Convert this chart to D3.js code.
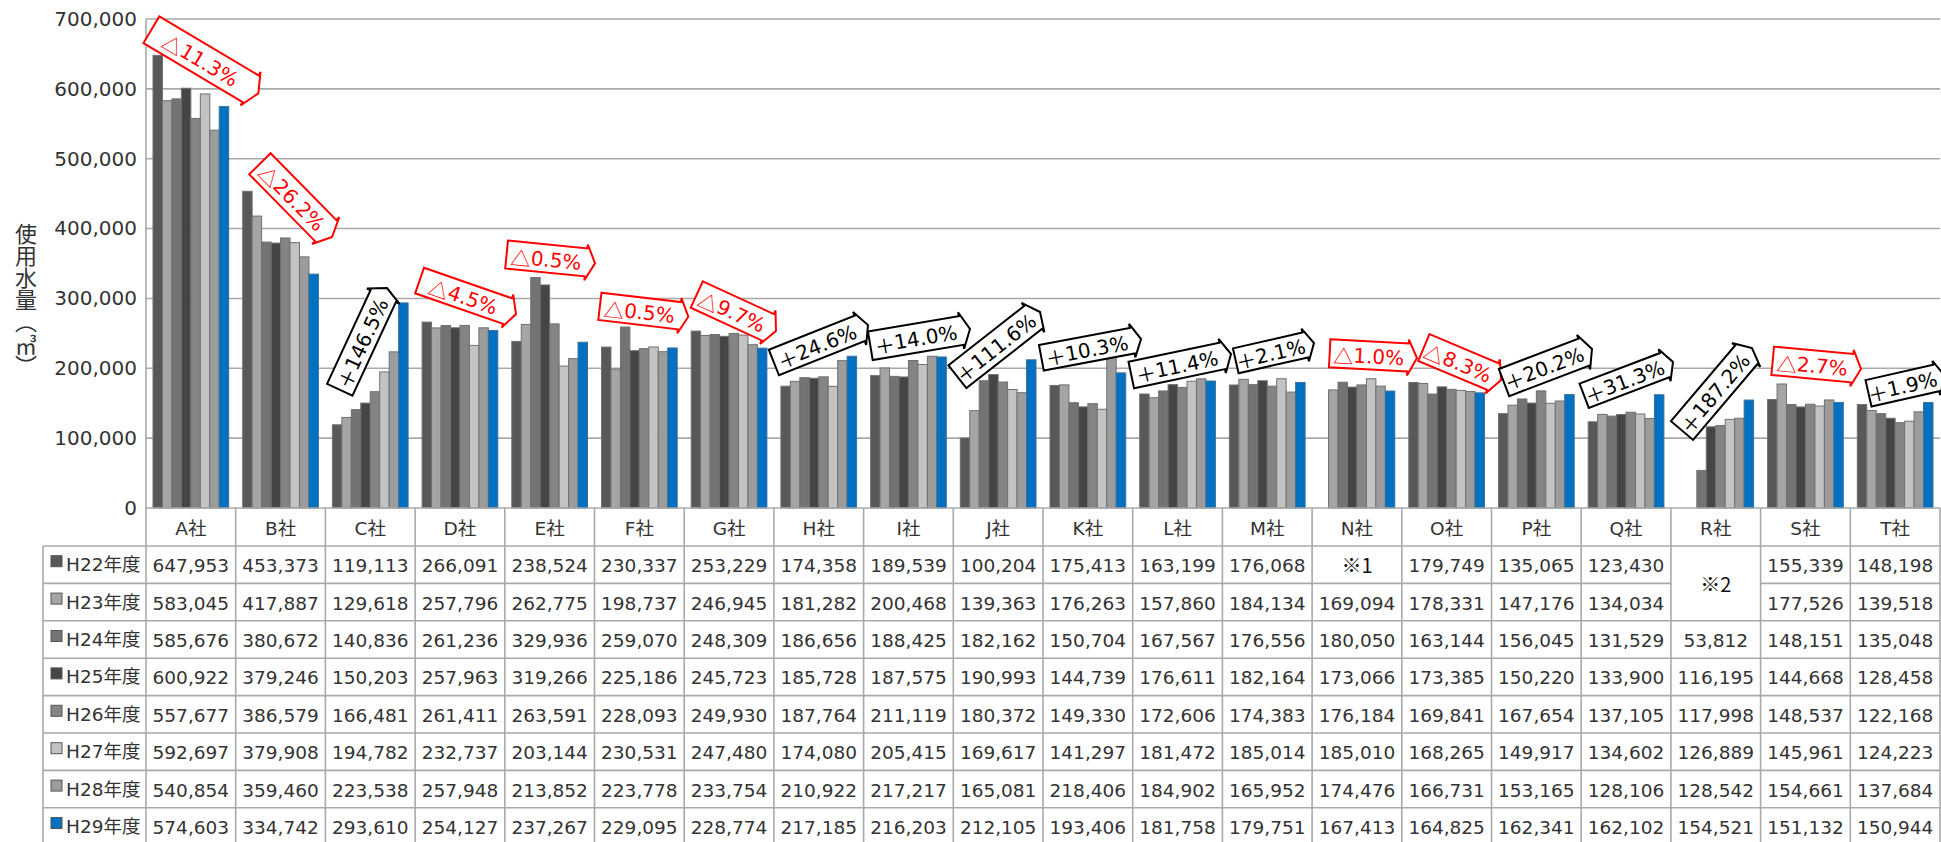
<!DOCTYPE html>
<html><head><meta charset="utf-8">
<script src="https://cdn.jsdelivr.net/npm/d3@7"></script>
<style>
body{margin:0;background:#fff;}
svg{display:block;font-family:"DejaVu Sans","Noto Sans CJK JP",sans-serif;}
</style></head><body>
<svg id="c" width="1941" height="842"></svg>
<script>
// ---------------- data ----------------
const companies = ["A社","B社","C社","D社","E社","F社","G社","H社","I社","J社","K社","L社","M社","N社","O社","P社","Q社","R社","S社","T社"];
const years = ["H22年度","H23年度","H24年度","H25年度","H26年度","H27年度","H28年度","H29年度"];
const H22 = [647953,453373,119113,266091,238524,230337,253229,174358,189539,100204,175413,163199,176068,null,179749,135065,123430,null,155339,148198];
const H23 = [583045,417887,129618,257796,262775,198737,246945,181282,200468,139363,176263,157860,184134,169094,178331,147176,134034,null,177526,139518];
const H24 = [585676,380672,140836,261236,329936,259070,248309,186656,188425,182162,150704,167567,176556,180050,163144,156045,131529,53812,148151,135048];
const H25 = [600922,379246,150203,257963,319266,225186,245723,185728,187575,190993,144739,176611,182164,173066,173385,150220,133900,116195,144668,128458];
const H26 = [557677,386579,166481,261411,263591,228093,249930,187764,211119,180372,149330,172606,174383,176184,169841,167654,137105,117998,148537,122168];
const H27 = [592697,379908,194782,232737,203144,230531,247480,174080,205415,169617,141297,181472,185014,185010,168265,149917,134602,126889,145961,124223];
const H28 = [540854,359460,223538,257948,213852,223778,233754,210922,217217,165081,218406,184902,165952,174476,166731,153165,128106,128542,154661,137684];
const H29 = [574603,334742,293610,254127,237267,229095,228774,217185,216203,212105,193406,181758,179751,167413,164825,162341,162102,154521,151132,150944];
const seriesValues = [H22,H23,H24,H25,H26,H27,H28,H29];
const yTicks = [0,100000,200000,300000,400000,500000,600000,700000];
const yLabel = "使用水量（㎥）";
const changeLabels = ["△11.3%","△26.2%","＋146.5%","△4.5%","△0.5%","△0.5%","△9.7%","＋24.6%","＋14.0%","＋111.6%","＋10.3%","＋11.4%","＋2.1%","△1.0%","△8.3%","＋20.2%","＋31.3%","＋187.2%","△2.7%","＋1.9%"];
// missing-data notes: [company, first year row, last year row, text]
const notes = [["N社","H22年度","H22年度","※1"],["R社","H22年度","H23年度","※2"]];
// annotation arrow placement: [band fraction, value] for tail and tip
const arrowFrom = [[0.06,684600],[0.27,492700],[0.16,169300],[0.05,325600],[0.02,362900],[0.06,288700],[0.14,305600],[0.00,208300],[0.075,232300],[0.046,187900],[-0.018,215000],[-0.016,190400],[0.149,210700],[0.196,221400],[0.246,229700],[0.14,179600],[0.033,160600],[0.124,110900],[0.135,210700],[0.203,164200]];
const arrowTo   = [[1.252,593600],[1.074,387900],[0.687,314900],[1.125,277700],[1.006,350300],[1.046,273800],[1.023,253400],[1.049,261900],[1.186,256200],[0.967,280600],[1.093,241900],[1.096,220400],[1.021,236200],[1.169,214700],[1.106,183200],[1.12,227600],[1.023,209000],[0.904,229000],[1.119,199000],[1.056,188900]];
const arrowThick = [31,30,28,27,28,27.5,29,27.5,29,29,26,27,25.5,28,29,29,26,29,28.5,27];

// ---------------- styles ----------------
const seriesColors = ["#585858","#a5a5a5","#737373","#454545","#848484","#c3c3c3","#9c9c9c","#0070c0"];
const lineColor = "#a9a9a9";
const textColor = "#333333";
const cjk = "Noto Sans CJK JP, sans-serif";

const svg = d3.select("#c");
const plotL = 146, plotR = 1940, plotT = 19, plotB = 508;
const tableL = 43, rowTop = 546, rowH = 37.4;

const x = d3.scaleBand().domain(companies).range([plotL, plotR]).padding(0);
const bw = x.bandwidth();
const x1 = d3.scaleBand().domain(years).range([7, bw - 7]).padding(0);
const y = d3.scaleLinear().domain([0, 700000]).range([plotB, plotT]);
const rowY = d3.scaleBand().domain(years).range([rowTop, rowTop + rowH * years.length]).padding(0);

// gridlines
svg.append("g").selectAll("line").data(yTicks.filter(d => d > 0)).join("line")
  .attr("x1", plotL).attr("x2", plotR)
  .attr("y1", d => y(d)).attr("y2", d => y(d))
  .attr("stroke", lineColor).attr("stroke-width", 1.6);

// y axis
const yAxis = d3.axisLeft(y).tickValues(yTicks).tickSize(0).tickPadding(9).tickFormat(d3.format(","));
const ga = svg.append("g").attr("transform", `translate(${plotL},0)`).call(yAxis);
ga.select(".domain").remove();
ga.selectAll("text").attr("font-size", 20).attr("fill", textColor)
  .attr("font-family", "DejaVu Sans, sans-serif");
svg.append("line").attr("x1", plotL).attr("x2", plotL).attr("y1", plotT).attr("y2", plotB)
  .attr("stroke", lineColor).attr("stroke-width", 1.6);

// y label (vertical, HTML for proper vertical typesetting)
svg.append("foreignObject").attr("x", 11).attr("y", 223).attr("width", 30).attr("height", 170)
  .append("xhtml:div")
  .style("writing-mode", "vertical-rl")
  .style("font-family", cjk)
  .style("font-size", "22px")
  .style("line-height", "30px")
  .style("color", textColor)
  .style("height", "170px")
  .text(yLabel);

// bars
const barData = [];
seriesValues.forEach((arr, si) => arr.forEach((v, ci) => {
  if (v != null) barData.push({c: companies[ci], yr: years[si], v, si});
}));
svg.append("g").selectAll("rect").data(barData).join("rect")
  .attr("x", d => x(d.c) + x1(d.yr))
  .attr("width", x1.bandwidth())
  .attr("y", d => y(d.v))
  .attr("height", d => y(0) - y(d.v))
  .attr("fill", d => seriesColors[d.si])
  .attr("stroke", d => d.si === 7 ? "#3a6f9a" : "#707070")
  .attr("stroke-width", 1);

// ---------------- table ----------------
const tg = svg.append("g");
const tableBottom = rowTop + rowH * years.length;
const hLines = [plotB, ...years.map(yr => rowY(yr)), tableBottom];
hLines.forEach((yy, i) => {
  if (i === 0) {
    tg.append("line").attr("x1", plotL).attr("x2", plotR).attr("y1", yy).attr("y2", yy);
  } else if (i === 2) {
    tg.append("line").attr("x1", tableL).attr("x2", x("R社")).attr("y1", yy).attr("y2", yy);
    tg.append("line").attr("x1", x("R社") + bw).attr("x2", plotR).attr("y1", yy).attr("y2", yy);
  } else {
    tg.append("line").attr("x1", tableL).attr("x2", plotR).attr("y1", yy).attr("y2", yy);
  }
});
tg.append("line").attr("x1", tableL).attr("x2", tableL).attr("y1", rowTop).attr("y2", tableBottom);
companies.forEach(c => {
  tg.append("line").attr("x1", x(c)).attr("x2", x(c)).attr("y1", plotB).attr("y2", tableBottom);
});
tg.append("line").attr("x1", plotR).attr("x2", plotR).attr("y1", plotB).attr("y2", tableBottom);
tg.selectAll("line").attr("stroke", lineColor).attr("stroke-width", 1.6);

// category labels
svg.append("g").selectAll("text").data(companies).join("text")
  .attr("x", d => x(d) + bw / 2).attr("y", (plotB + rowTop) / 2 + 1)
  .attr("text-anchor", "middle").attr("dominant-baseline", "central")
  .attr("font-size", 18.5).attr("fill", textColor).text(d => d);

// legend column
const lg = svg.append("g");
years.forEach((yr, si) => {
  const cy = rowY(yr) + rowH / 2;
  lg.append("rect").attr("x", 51).attr("y", cy - 9).attr("width", 11).attr("height", 11)
    .attr("fill", seriesColors[si]).attr("stroke", "#555").attr("stroke-width", 1);
  lg.append("text").attr("x", 66).attr("y", cy).attr("dominant-baseline", "central")
    .attr("font-size", 18.5).attr("fill", textColor).text(yr);
});

// values
const cellData = [];
seriesValues.forEach((arr, si) => arr.forEach((v, ci) => {
  if (v != null) cellData.push({c: companies[ci], yr: years[si], v});
}));
svg.append("g").selectAll("text").data(cellData).join("text")
  .attr("x", d => x(d.c) + bw / 2).attr("y", d => rowY(d.yr) + rowH / 2 + 1)
  .attr("text-anchor", "middle").attr("dominant-baseline", "central")
  .attr("font-size", 18.5).attr("fill", textColor)
  .text(d => d3.format(",")(d.v));
svg.append("g").selectAll("text").data(notes).join("text")
  .attr("x", d => x(d[0]) + bw / 2)
  .attr("y", d => (rowY(d[1]) + rowY(d[2]) + rowH) / 2)
  .attr("text-anchor", "middle").attr("dominant-baseline", "central")
  .attr("font-size", 20).attr("fill", "#111")
  .attr("font-family", cjk)
  .text(d => d[3]);

// ---------------- annotation arrows ----------------
const head = 9, barb = 4;
const ag = svg.append("g");
companies.forEach((c, i) => {
  const p0 = [x(c) + arrowFrom[i][0] * bw, y(arrowFrom[i][1])];
  const p1 = [x(c) + arrowTo[i][0] * bw, y(arrowTo[i][1])];
  const len = Math.hypot(p1[0] - p0[0], p1[1] - p0[1]);
  const ang = Math.atan2(p1[1] - p0[1], p1[0] - p0[0]) * 180 / Math.PI;
  const H = arrowThick[i];
  const lab = changeLabels[i];
  const col = lab.startsWith("△") ? "#ff0000" : "#000000";
  const g = ag.append("g").attr("transform", `translate(${p0[0]},${p0[1]}) rotate(${ang})`);
  const p = d3.path();
  p.moveTo(0, -H / 2);
  p.lineTo(len - head, -H / 2);
  p.lineTo(len - head, -H / 2 - barb);
  p.lineTo(len, 0);
  p.lineTo(len - head, H / 2 + barb);
  p.lineTo(len - head, H / 2);
  p.lineTo(0, H / 2);
  p.closePath();
  g.append("path").attr("d", p.toString()).attr("fill", "#fff")
    .attr("stroke", col).attr("stroke-width", 2).attr("stroke-linejoin", "miter");
  const t = g.append("text").attr("x", (len - head) / 2).attr("y", 1)
    .attr("text-anchor", "middle").attr("dominant-baseline", "central")
    .attr("font-size", 20).attr("fill", col);
  t.append("tspan").attr("font-family", cjk).text(lab.slice(0, 1));
  t.append("tspan").text(lab.slice(1));
});
</script>
</body></html>
